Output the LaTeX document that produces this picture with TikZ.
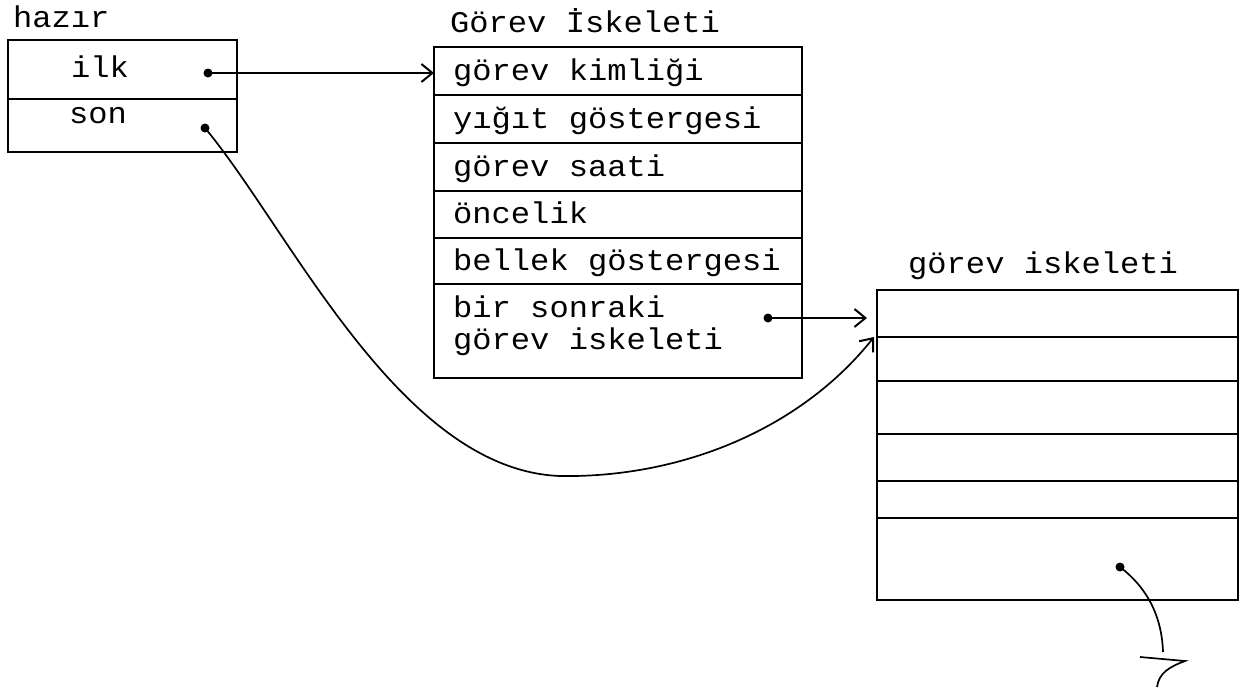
\documentclass[tikz,border=0pt]{standalone}
\usepackage{fontspec}
\newfontfamily\daktilo[FakeStretch=1.07]{Liberation Mono}
\usetikzlibrary{arrows.meta,positioning}

\begin{document}
\begin{tikzpicture}[
  x=1pt, y=-1pt,
  every node/.style={font=\daktilo\fontsize{30}{32}\selectfont},
  hucre/.style={draw, line width=2.2pt, outer sep=0pt, inner sep=0pt, anchor=north west},
  satir/.style={hucre, minimum width=368pt},
  yazi/.style={inner sep=0pt, anchor=base west},
  nokta/.style={circle, fill, inner sep=0pt, minimum size=9pt},
  cizgi/.style={line width=1.7pt},
  ok/.style={cizgi, -{Straight Barb[length=11pt, width=18pt, line width=2pt]}}
]
  \path[fill=white, use as bounding box] (0,0) rectangle (1244,689);

  \node[yazi] (hazir) at (13,27) {hazır};
  \node[hucre, minimum width=229pt, minimum height=59pt] (ilk) at (8,40) {};
  \node[hucre, minimum width=229pt, minimum height=53pt, below=0pt of ilk] (son) {};
  \node[yazi, anchor=base] (ilkyazi) at (100,77) {ilk};
  \node[yazi, anchor=base] (sonyazi) at (98,123) {son};
  \node[nokta] (ilknokta) at (208,73) {};
  \node[nokta] (sonnokta) at (205,128) {};

  \node[yazi] (gorev) at (450,32) {Görev İskeleti};
  \node[satir, minimum height=48pt] (g1) at (434,47) {};
  \node[satir, minimum height=48pt, below=0pt of g1] (g2) {};
  \node[satir, minimum height=48pt, below=0pt of g2] (g3) {};
  \node[satir, minimum height=47pt, below=0pt of g3] (g4) {};
  \node[satir, minimum height=46pt, below=0pt of g4] (g5) {};
  \node[satir, minimum height=94pt, below=0pt of g5] (g6) {};
  \node[yazi] (g1yazi) at ([xshift=19pt, yshift=-9pt]g1.west) {görev kimliği};
  \node[yazi] (g2yazi) at ([xshift=19pt, yshift=-9pt]g2.west) {yığıt göstergesi};
  \node[yazi] (g3yazi) at ([xshift=19pt, yshift=-9pt]g3.west) {görev saati};
  \node[yazi] (g4yazi) at ([xshift=19pt, yshift=-9pt]g4.west) {öncelik};
  \node[yazi] (g5yazi) at ([xshift=19pt, yshift=-9pt]g5.west) {bellek göstergesi};
  \node[yazi, anchor=north west, align=left] (g6yazi) at (453,296) {bir sonraki\\görev iskeleti};
  \node[nokta] (g6nokta) at (768,318) {};

  \node[yazi] (sonraki) at (908,273) {görev iskeleti};
  \node[hucre, minimum width=361pt, minimum height=47pt] (k1) at (877,290) {};
  \node[hucre, minimum width=361pt, minimum height=44pt, below=0pt of k1] (k2) {};
  \node[hucre, minimum width=361pt, minimum height=53pt, below=0pt of k2] (k3) {};
  \node[hucre, minimum width=361pt, minimum height=47pt, below=0pt of k3] (k4) {};
  \node[hucre, minimum width=361pt, minimum height=37pt, below=0pt of k4] (k5) {};
  \node[hucre, minimum width=361pt, minimum height=82pt, below=0pt of k5] (k6) {};
  \node[nokta] (k6nokta) at (1120,567) {};
  \coordinate (bitis) at (1163,652);
  \coordinate (yedi) at (1140,657);

  \draw[ok] (ilknokta.center) -- (g1.west |- ilknokta);
  \draw[ok] (sonnokta.center) .. controls (290,230) and (400,470) .. (560,476)
    .. controls (680,478) and (800,430) .. ([xshift=-3pt]k1.south west);
  \draw[ok] (g6nokta.center) -- ([xshift=-10pt]k1.west |- g6nokta);
  \draw[cizgi] (k6nokta.center) .. controls (1150,590) and (1162,620) .. (bitis);
  \draw[cizgi] (yedi) -- ++(45,4) .. controls +(-16,6) and +(2,-14) .. ++(-28,26);
\end{tikzpicture}
\end{document}
